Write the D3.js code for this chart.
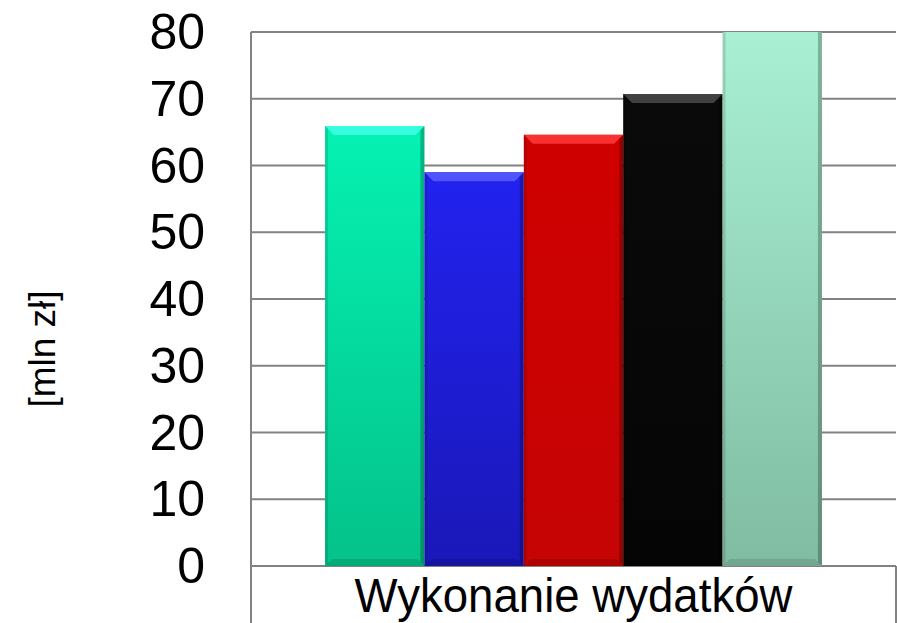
<!DOCTYPE html>
<html>
<head>
<meta charset="utf-8">
<script src="https://cdn.jsdelivr.net/npm/d3@7"></script>
<style>
  body { margin: 0; background: #fff; }
  text { font-family: "Liberation Sans", Arial, sans-serif; }
</style>
</head>
<body>
<div id="chart"></div>
<script>
const category = "Wykonanie wydatków";
const seriesNames = ["s1", "s2", "s3", "s4", "s5"];
const seriesValues = [65.9, 59.0, 64.6, 70.7, 84];
const yTicks = [0, 10, 20, 30, 40, 50, 60, 70, 80];
const yTitle = "[mln zł]";

// top colour, bottom colour, bevel colour
const barColors = [
  ["#05F2B2", "#04C28A", "#3FFFE6"],
  ["#2222F0", "#1A18B8", "#5C5CFF"],
  ["#CF0000", "#C60404", "#FF3A3A"],
  ["#0A0A0A", "#050505", "#4A4A4A"],
  ["#AAF2D6", "#80BCA2", "#C8FFEA"]
];

const width = 897, height = 623;
const plot = { left: 251, right: 896, top: 32, bottom: 566 };

const svg = d3.select("#chart").append("svg")
  .attr("width", width)
  .attr("height", height);

const y = d3.scaleLinear().domain([0, 80]).range([plot.bottom, plot.top]);

const x0 = d3.scaleBand()
  .domain([category])
  .range([plot.left, plot.right])
  .paddingInner(0)
  .paddingOuter(0.149);

const x1 = d3.scaleBand()
  .domain(seriesNames)
  .range([0, x0.bandwidth()]);

const defs = svg.append("defs");
defs.append("clipPath").attr("id", "plotClip")
  .append("rect")
  .attr("x", plot.left).attr("y", plot.top)
  .attr("width", plot.right - plot.left)
  .attr("height", plot.bottom - plot.top);

barColors.forEach((c, i) => {
  const g = defs.append("linearGradient")
    .attr("id", "grad" + i)
    .attr("x1", 0).attr("y1", 0).attr("x2", 0).attr("y2", 1);
  g.append("stop").attr("offset", "0%").attr("stop-color", c[0]);
  g.append("stop").attr("offset", "100%").attr("stop-color", c[1]);
});

// gridlines
svg.append("g")
  .selectAll("line")
  .data(yTicks)
  .join("line")
  .attr("x1", plot.left)
  .attr("x2", plot.right)
  .attr("y1", d => y(d))
  .attr("y2", d => y(d))
  .attr("stroke", "#828282")
  .attr("stroke-width", 2);

// left axis line + category box
svg.append("line")
  .attr("x1", plot.left).attr("x2", plot.left)
  .attr("y1", plot.top).attr("y2", height)
  .attr("stroke", "#828282").attr("stroke-width", 2);
svg.append("line")
  .attr("x1", plot.right).attr("x2", plot.right)
  .attr("y1", plot.bottom).attr("y2", height)
  .attr("stroke", "#828282").attr("stroke-width", 2);

// bars
const bev = 9;
const barsG = svg.append("g").attr("clip-path", "url(#plotClip)");
seriesNames.forEach((s, i) => {
  const bx = x0(category) + x1(s);
  const bw = x1.bandwidth();
  const top = y(seriesValues[i]);
  const bot = y(0);
  const bh = bot - top;
  const g = barsG.append("g");

  g.append("rect")
    .attr("x", bx).attr("y", top)
    .attr("width", bw).attr("height", bh)
    .attr("fill", `url(#grad${i})`);

  // top bevel
  g.append("path")
    .attr("d", `M${bx},${top} L${bx + bw},${top} L${bx + bw - bev},${top + bev} L${bx + bev},${top + bev} Z`)
    .attr("fill", barColors[i][2])
    .attr("opacity", 0.85);
  // left / right edges
  g.append("path")
    .attr("d", `M${bx},${top} L${bx + 3},${top + 3} L${bx + 3},${bot - 3} L${bx},${bot} Z`)
    .attr("fill", "#000").attr("opacity", 0.12);
  g.append("path")
    .attr("d", `M${bx + bw},${top} L${bx + bw - 4},${top + 4} L${bx + bw - 4},${bot - 4} L${bx + bw},${bot} Z`)
    .attr("fill", "#000").attr("opacity", 0.25);
  // bottom bevel
  g.append("path")
    .attr("d", `M${bx},${bot} L${bx + bw},${bot} L${bx + bw - 7},${bot - 7} L${bx + 7},${bot - 7} Z`)
    .attr("fill", "#000").attr("opacity", 0.12);
});

// y tick labels
svg.append("g")
  .selectAll("text")
  .data(yTicks)
  .join("text")
  .attr("x", 205)
  .attr("y", d => y(d) + 17)
  .attr("text-anchor", "end")
  .attr("font-size", 50)
  .attr("fill", "#000")
  .text(d => d);

// y title
svg.append("text")
  .attr("transform", "translate(55, 349) rotate(-90)")
  .attr("text-anchor", "middle")
  .attr("font-size", 37)
  .attr("fill", "#000")
  .text(yTitle);

// category label
svg.append("text")
  .attr("transform", `translate(${x0(category) + x0.bandwidth() / 2}, 612) scale(0.95, 1)`)
  .attr("text-anchor", "middle")
  .attr("font-size", 48)
  .attr("fill", "#000")
  .text(category);
</script>
</body>
</html>
